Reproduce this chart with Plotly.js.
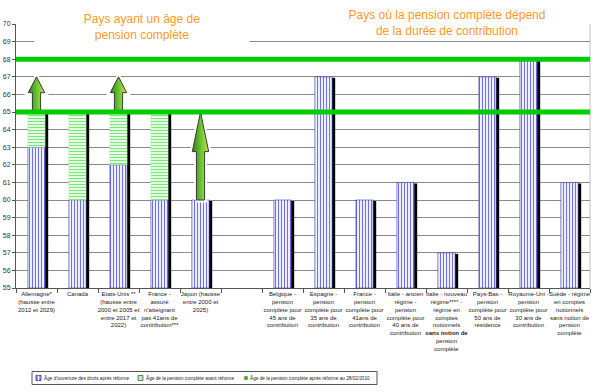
<!DOCTYPE html>
<html>
<head>
<meta charset="utf-8">
<script src="https://cdn.plot.ly/plotly-3.0.1.min.js"></script>
<style>
  html, body { margin: 0; padding: 0; background: #ffffff; }
  #chart { width: 600px; height: 392px; }
</style>
</head>
<body>
<div id="chart"></div>
<script>
// ---------- data ----------
const categories = [
  "Allemagne*<br>(hausse entre<br>2012 et 2029)",
  "Canada",
  "Etats-Unis **<br>(hausse entre<br>2000 et 2005 et<br>entre 2017 et<br>2022)",
  "France -<br>assuré<br>n'atteignant<br>pas 41ans de<br>contribution***",
  "Japon (hausse<br>entre 2000 et<br>2025)",
  "",
  "Belgique -<br>pension<br>complète pour<br>45 ans de<br>contribution",
  "Espagne -<br>pension<br>complète pour<br>35 ans de<br>contribution",
  "France -<br>pension<br>complète pour<br>41ans de<br>contribution",
  "Italie - ancien<br>régime -<br>pension<br>complète pour<br>40 ans de<br>contribution",
  "Italie - nouveau<br>régime**** -<br>régime en<br>comptes<br>notionnels<br><b>sans notion de</b><br>pension<br>complète",
  "Pays-Bas -<br>pension<br>complète pour<br>50 ans de<br>résidence",
  "Royaume-Uni -<br>pension<br>complète pour<br>30 ans de<br>contribution",
  "Suède - régime<br>en comptes<br>notionnels<br>sans notion de<br>pension<br>complète"
];
// Âge d'ouverture des droits après réforme
const ageOuverture = [63, 60, 62, 60, 60, null, 60, 67, 60, 61, 57, 67, 68, 61];
// Âge de la pension complète avant réforme
const agePleineAvant = [65, 65, 65, 65, 60, null, null, null, null, null, null, null, null, null];
// Âge de la pension complète après réforme au 28/02/2010
const agePleineApres = [67, null, 67, null, 65, null, null, null, null, null, null, null, null, null];
// Reference ages (green horizontal lines)
const refAges = [65, 68];
const yTicks = [55,56,57,58,59,60,61,62,63,64,65,66,67,68,69,70];

const legendNames = [
  "Âge d'ouverture des droits après réforme",
  "Âge de la pension complète avant réforme",
  "Âge de la pension complète après réforme au 28/02/2010"
];

// ---------- derived ----------
const xIdx = categories.map((_, i) => i);
const BAR_W = 0.42;
const greenLen = agePleineAvant.map((v, i) =>
  (v != null && ageOuverture[i] != null && v > ageOuverture[i]) ? v - ageOuverture[i] : null);
const topVal = ageOuverture.map((v, i) => {
  if (v == null) return null;
  const a = agePleineAvant[i];
  return (a != null && a > v) ? a : v;
});
const shadowLen = topVal.map(v => v == null ? null : v - 55 - 0.06);

const traces = [];

// shadow bars
traces.push({
  type: 'bar', x: xIdx, y: shadowLen, base: 55,
  width: BAR_W, offset: -BAR_W/2 + 0.075,
  marker: { color: '#000000', line: { width: 0 } },
  showlegend: false, hoverinfo: 'skip'
});
// blue bars
traces.push({
  type: 'bar', x: xIdx, y: ageOuverture.map(v => v == null ? null : v - 55), base: 55,
  width: BAR_W, offset: -BAR_W/2,
  name: legendNames[0], showlegend: false,
  marker: {
    color: '#ffffff',
    pattern: { shape: '|', fgcolor: '#6f6ff4', bgcolor: '#ffffff', size: 3, solidity: 0.4 },
    line: { color: '#3c3ca8', width: 0.6 }
  }
});
// green bars
traces.push({
  type: 'bar', x: xIdx, y: greenLen, base: ageOuverture,
  width: BAR_W, offset: -BAR_W/2,
  name: legendNames[1], showlegend: false,
  marker: {
    color: '#ffffff',
    pattern: { shape: '-', fgcolor: '#74ec74', bgcolor: '#ffffff', size: 3, solidity: 0.45 },
    line: { color: '#b5e3b5', width: 0.5 }
  }
});

// arrows (after reform), built from data
agePleineApres.forEach((v, i) => {
  if (v == null) return;
  const start = (agePleineAvant[i] != null) ? agePleineAvant[i] : ageOuverture[i];
  const L = v - start;
  const hh = 0.45 * L, sw = 0.1, hw = 0.2;
  const xs = [i - sw, i - sw, i - hw, i, i + hw, i + sw, i + sw, i - sw];
  const ys = [start, v - hh, v - hh, v, v - hh, v - hh, start, start];
  traces.push({
    type: 'scatter', mode: 'lines', x: xs, y: ys,
    line: { color: '#ffffff', width: 5 }, showlegend: false, hoverinfo: 'skip'
  });
  traces.push({
    type: 'scatter', mode: 'lines', x: xs, y: ys, fill: 'toself',
    fillcolor: '#5cb82c',
    fillgradient: { type: 'horizontal',
      colorscale: [[0, '#2d7f22'], [0.45, '#5fbf2c'], [1, '#c6e24a']] },
    line: { color: '#3a3a3a', width: 1 }, showlegend: false, hoverinfo: 'skip'
  });
});

// ---------- shapes ----------
const shapes = refAges.map(a => ({
  type: 'line', xref: 'paper', x0: 0, x1: 1, yref: 'y', y0: a, y1: a,
  line: { color: '#00cc00', width: 5 }, layer: 'above'
}));
shapes.push({
  type: 'line', xref: 'paper', x0: 1, x1: 1, yref: 'paper', y0: 0, y1: 1,
  line: { color: '#c0c0c0', width: 1 }, layer: 'below'
});

// ---------- custom legend (paper coords, pixel sizes) ----------
const PL = 16, PW = 574, PB = 288, PH = 264;
const px2x = p => (p - PL) / PW;
const px2y = p => (PB - p) / PH;
const legY = px2y(378);
shapes.push({
  type: 'rect', xref: 'paper', yref: 'paper',
  x0: px2x(32), x1: px2x(377), y0: px2y(384.5), y1: px2y(371.5),
  line: { color: '#555555', width: 1 }, fillcolor: '#ffffff', layer: 'above'
});
const legSym = [36, 138, 244];
const legTxt = [43, 145, 249];
// symbol 1: blue striped box
shapes.push({ type: 'rect', xref: 'paper', yref: 'paper', xsizemode: 'pixel', ysizemode: 'pixel',
  xanchor: px2x(legSym[0]), yanchor: legY, x0: 0, x1: 5, y0: -2.5, y1: 2.5,
  fillcolor: '#9a9af8', line: { color: '#2b2b8f', width: 0.8 }, layer: 'above' });
shapes.push({ type: 'line', xref: 'paper', yref: 'paper', xsizemode: 'pixel', ysizemode: 'pixel',
  xanchor: px2x(legSym[0]), yanchor: legY, x0: 2.5, x1: 2.5, y0: -2.5, y1: 2.5,
  line: { color: '#ffffff', width: 1 }, layer: 'above' });
// symbol 2: green box
shapes.push({ type: 'rect', xref: 'paper', yref: 'paper', xsizemode: 'pixel', ysizemode: 'pixel',
  xanchor: px2x(legSym[1]), yanchor: legY, x0: 0, x1: 5, y0: -2.5, y1: 2.5,
  fillcolor: '#b6f5b6', line: { color: '#555555', width: 0.8 }, layer: 'above' });
// symbol 3: green dot
shapes.push({ type: 'circle', xref: 'paper', yref: 'paper', xsizemode: 'pixel', ysizemode: 'pixel',
  xanchor: px2x(legSym[2]), yanchor: legY, x0: 0, x1: 4, y0: -2, y1: 2,
  fillcolor: '#56a832', line: { color: '#56a832', width: 0.5 }, layer: 'above' });

const annotations = [
  { xref: 'paper', yref: 'paper', x: px2x(142), y: px2y(26.5), xanchor: 'center', yanchor: 'middle',
    text: 'Pays ayant un âge de<br>pension complète', showarrow: false,
    width: 212, height: 28, bgcolor: '#ffffff',
    font: { size: 12, color: '#ff9a1f', family: 'Liberation Sans, Arial, sans-serif' } },
  { xref: 'paper', yref: 'paper', x: px2x(447), y: px2y(22.5), xanchor: 'center', yanchor: 'middle',
    text: 'Pays où la pension complète dépend<br>de la durée de contribution', showarrow: false,
    width: 230, height: 28, bgcolor: '#ffffff',
    font: { size: 12, color: '#ff9a1f', family: 'Liberation Sans, Arial, sans-serif' } }
];
legendNames.forEach((n, k) => {
  annotations.push({
    xref: 'paper', yref: 'paper', x: px2x(legTxt[k]), y: legY, xanchor: 'left', yanchor: 'middle',
    text: n, showarrow: false, borderpad: 0,
    font: { size: 4.7, color: '#222222', family: 'Liberation Sans, Arial, sans-serif' }
  });
});

const layout = {
  width: 600, height: 392,
  margin: { l: 16, r: 10, t: 24, b: 104, autoexpand: false },
  paper_bgcolor: '#ffffff', plot_bgcolor: '#ffffff',
  font: { family: 'Liberation Sans, Arial, sans-serif', color: '#222222' },
  barmode: 'overlay',
  showlegend: false,
  xaxis: {
    range: [-0.5, categories.length - 0.5],
    tickmode: 'array', tickvals: xIdx, ticktext: categories,
    tickangle: 0, ticks: '',
    tickfont: { size: 6, color: '#222222' },
    showgrid: false, zeroline: false, automargin: false,
    showline: true, linecolor: '#555555', linewidth: 1,
    minor: { tickmode: 'array', tickvals: xIdx.map(i => i + 0.5).concat([-0.5]),
             ticks: 'outside', ticklen: 4, tickcolor: '#555555', showgrid: false },
    fixedrange: true
  },
  yaxis: {
    range: [55, 70], automargin: false,
    tickmode: 'array', tickvals: yTicks,
    ticks: 'outside', ticklen: 3, tickcolor: '#555555',
    tickfont: { size: 7, color: '#333333' },
    showgrid: true, gridcolor: '#8a8a8a', gridwidth: 1,
    zeroline: false, showline: true, linecolor: '#555555', linewidth: 1,
    fixedrange: true
  },
  shapes: shapes,
  annotations: annotations
};

Plotly.newPlot('chart', traces, layout, { displayModeBar: false, staticPlot: true });
</script>
</body>
</html>
